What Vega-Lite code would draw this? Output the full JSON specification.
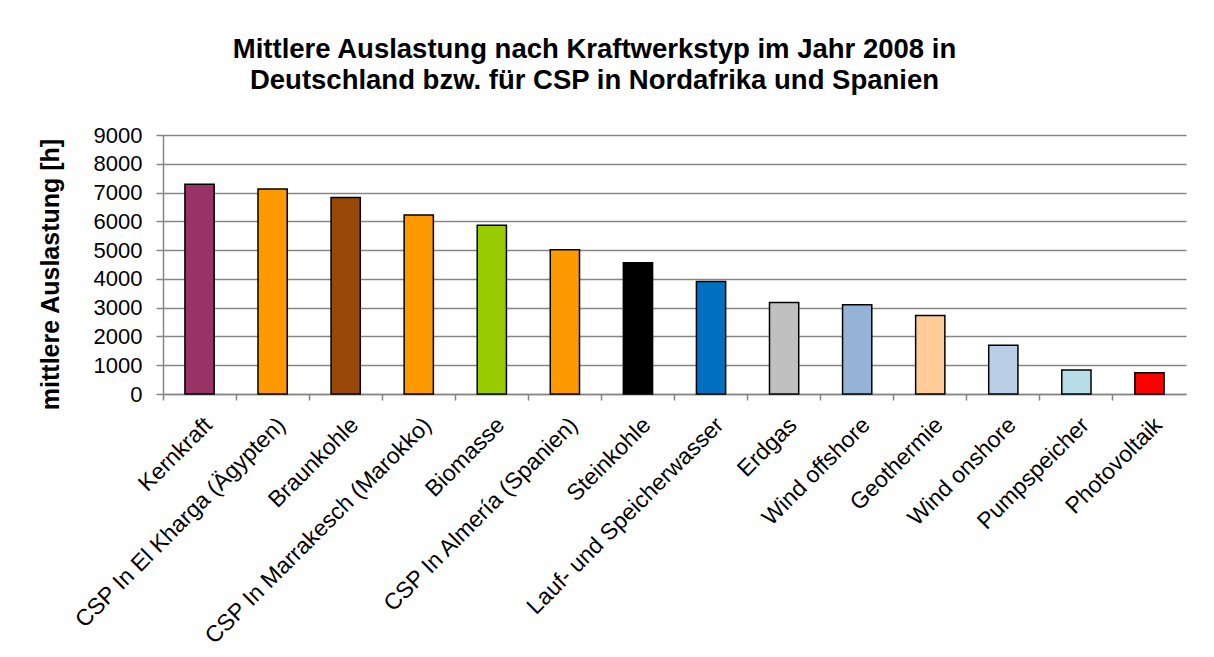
{
  "$schema": "https://vega.github.io/schema/vega-lite/v6.json",
  "width": 1023,
  "height": 259,
  "autosize": {"type": "none"},
  "padding": {"left": 163, "top": 135, "right": 28, "bottom": 263},
  "background": "white",
  "config": {"view": {"stroke": null}, "font": "Liberation Sans"},
  "title": {
    "text": ["Mittlere Auslastung nach Kraftwerkstyp im Jahr 2008 in", "Deutschland bzw. für CSP in Nordafrika und Spanien"],
    "font": "Liberation Sans",
    "fontSize": 27.5,
    "fontWeight": "bold",
    "color": "black",
    "anchor": "middle",
    "dx": -80,
    "offset": 30,
    "lineHeight": 31
  },
  "data": {
    "values": [
      {"Kraftwerkstyp": "Kernkraft", "Auslastung": 7290},
      {"Kraftwerkstyp": "CSP In El Kharga (Ägypten)", "Auslastung": 7120},
      {"Kraftwerkstyp": "Braunkohle", "Auslastung": 6830},
      {"Kraftwerkstyp": "CSP In Marrakesch (Marokko)", "Auslastung": 6220},
      {"Kraftwerkstyp": "Biomasse", "Auslastung": 5860},
      {"Kraftwerkstyp": "CSP In Almería (Spanien)", "Auslastung": 5010},
      {"Kraftwerkstyp": "Steinkohle", "Auslastung": 4560},
      {"Kraftwerkstyp": "Lauf- und Speicherwasser", "Auslastung": 3910},
      {"Kraftwerkstyp": "Erdgas", "Auslastung": 3180},
      {"Kraftwerkstyp": "Wind offshore", "Auslastung": 3100},
      {"Kraftwerkstyp": "Geothermie", "Auslastung": 2730},
      {"Kraftwerkstyp": "Wind onshore", "Auslastung": 1690},
      {"Kraftwerkstyp": "Pumpspeicher", "Auslastung": 830},
      {"Kraftwerkstyp": "Photovoltaik", "Auslastung": 740}
    ]
  },
  "layer": [
    {
      "mark": {"type": "bar", "stroke": "black", "strokeWidth": 1.5, "width": {"band": 0.4}},
      "encoding": {
        "x": {
          "field": "Kraftwerkstyp",
          "type": "nominal",
          "sort": null,
          "scale": {"paddingInner": 0, "paddingOuter": 0},
          "axis": {
            "title": null,
            "ticks": false,
            "grid": false,
            "domain": true,
            "domainColor": "#868686",
            "domainWidth": 1.5,
            "labelAngle": -45,
            "labelAlign": "right",
            "labelBaseline": "alphabetic",
            "labelPadding": 32,
            "labelOffset": 14,
            "labelFont": "Liberation Sans",
            "labelFontSize": 23,
            "labelColor": "black",
            "labelLimit": 400
          }
        },
        "y": {
          "field": "Auslastung",
          "type": "quantitative",
          "scale": {"domain": [0, 9000]},
          "axis": {
            "title": "mittlere Auslastung [h]",
            "titleFont": "Liberation Sans",
            "titleFontSize": 25,
            "titleFontWeight": "bold",
            "titleColor": "black",
            "titlePadding": 30,
            "titleY": 139,
            "values": [0, 1000, 2000, 3000, 4000, 5000, 6000, 7000, 8000, 9000],
            "format": "d",
            "labelFont": "Liberation Sans",
            "labelFontSize": 22,
            "labelColor": "black",
            "labelPadding": 14,
            "tickSize": 7,
            "tickColor": "#868686",
            "tickWidth": 1.5,
            "domainColor": "#868686",
            "domainWidth": 1.5,
            "grid": true,
            "gridColor": "#868686",
            "gridWidth": 1.5
          }
        },
        "color": {
          "field": "Kraftwerkstyp",
          "type": "nominal",
          "scale": {
            "domain": ["Kernkraft", "CSP In El Kharga (Ägypten)", "Braunkohle", "CSP In Marrakesch (Marokko)", "Biomasse", "CSP In Almería (Spanien)", "Steinkohle", "Lauf- und Speicherwasser", "Erdgas", "Wind offshore", "Geothermie", "Wind onshore", "Pumpspeicher", "Photovoltaik"],
            "range": ["#993366", "#FF9900", "#984807", "#FF9900", "#99CC00", "#FF9900", "#000000", "#0070C0", "#C0C0C0", "#95B3D7", "#FFCC99", "#B9CDE5", "#B7DEE8", "#FF0000"]
          },
          "legend": null
        }
      }
    },
    {
      "mark": {"type": "tick", "opacity": 0},
      "encoding": {
        "x": {
          "field": "Kraftwerkstyp",
          "type": "nominal",
          "sort": null,
          "axis": {
            "orient": "bottom",
            "title": null,
            "bandPosition": 0,
            "labels": false,
            "ticks": true,
            "tickSize": 6,
            "tickColor": "#868686",
            "tickWidth": 1.5,
            "domain": false,
            "grid": false
          }
        }
      }
    }
  ],
  "resolve": {"axis": {"x": "independent"}}
}
